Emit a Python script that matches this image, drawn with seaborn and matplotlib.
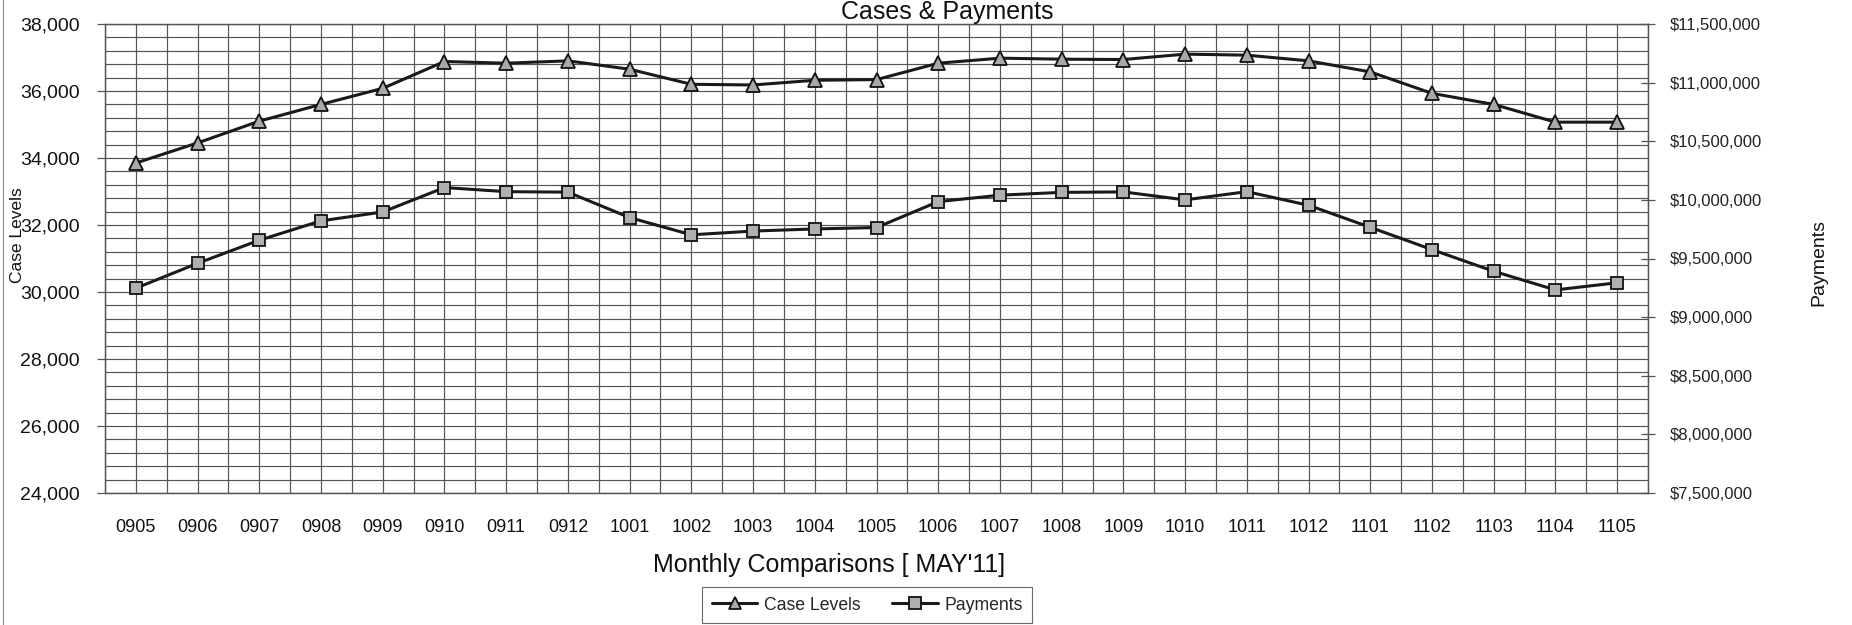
import numpy as np
import matplotlib
matplotlib.use("Agg")
import matplotlib.pyplot as plt
from matplotlib.ticker import MultipleLocator, FuncFormatter, FixedLocator
from matplotlib.lines import Line2D
import seaborn as sns

# monthly periods (YYMM) and values
months = ['0905', '0906', '0907', '0908', '0909', '0910', '0911', '0912',
          '1001', '1002', '1003', '1004', '1005', '1006', '1007', '1008',
          '1009', '1010', '1011', '1012', '1101', '1102', '1103', '1104', '1105']
case_levels = [33850, 34450, 35100, 35600, 36080, 36880, 36830, 36900,
               36650, 36200, 36180, 36320, 36340, 36830, 36980, 36950,
               36940, 37100, 37070, 36900, 36570, 35930, 35600, 35070, 35070]
payments = [9247000, 9459000, 9656000, 9821000, 9897000, 10105000, 10070000, 10066000,
            9849000, 9702000, 9734000, 9752000, 9764000, 9985000, 10040000, 10064000,
            10068000, 10000000, 10070000, 9954000, 9766000, 9576000, 9391000, 9232000, 9293000]

sns.set_theme(style='white')
plt.rcParams['font.family'] = ['Liberation Sans', 'DejaVu Sans']

W, H = 1852, 625
fig = plt.figure(figsize=(W / 100, H / 100), dpi=100)
left, right, top, bottom = 105, 1648, 24, 493
ax = fig.add_axes([left / W, 1 - bottom / H, (right - left) / W, (bottom - top) / H])
ax2 = ax.twinx()

grid_col = '#555555'
x = np.arange(len(months))

sns.lineplot(x=x, y=case_levels, ax=ax, color='#1a1a1a', lw=2.2, marker='^',
             markersize=10, markerfacecolor='#a8a8a8', markeredgecolor='#111111',
             markeredgewidth=1.3, label='Case Levels', legend=False, zorder=5)
sns.lineplot(x=x, y=payments, ax=ax2, color='#1a1a1a', lw=2.2, marker='s',
             markersize=9, markerfacecolor='#b0b0b0', markeredgecolor='#111111',
             markeredgewidth=1.3, label='Payments', legend=False, zorder=5)

ax.set_xlim(-0.5, len(months) - 0.5)
ax.set_ylim(24000, 38000)
ax2.set_ylim(7500000, 11500000)

# x axis: labels on categories, small ticks on boundaries
ax.xaxis.set_major_locator(FixedLocator(x))
ax.set_xticklabels(months)
ax.xaxis.set_minor_locator(FixedLocator(np.arange(-0.5, len(months), 1.0)))
ax.tick_params(axis='x', which='major', length=0, pad=19, labelsize=13, labelcolor='#111111')
ax.tick_params(axis='x', which='minor', length=5, width=0.9, color=grid_col, direction='out')

ax.yaxis.set_major_locator(MultipleLocator(2000))
ax.yaxis.set_minor_locator(MultipleLocator(400))
ax.yaxis.set_major_formatter(FuncFormatter(lambda v, p: f'{v:,.0f}'))
ax.tick_params(axis='y', which='major', left=True, length=6, width=0.9, color=grid_col,
               direction='out', pad=12, labelsize=14, labelcolor='#111111')
ax.tick_params(axis='y', which='minor', length=0)

ax2.yaxis.set_major_locator(MultipleLocator(500000))
ax2.yaxis.set_major_formatter(FuncFormatter(lambda v, p: f'${v:,.0f}'))
ax2.tick_params(axis='y', which='major', right=True, length=10, width=0.9, color=grid_col,
                direction='inout', pad=11, labelsize=12, labelcolor='#222222')
ax2.grid(False)

# dense grid: every half category and every 400 cases
ax.grid(True, which='both', axis='both', color=grid_col, lw=0.85)
ax.set_axisbelow(True)
for a in (ax, ax2):
    for s in a.spines.values():
        s.set_color(grid_col)
        s.set_linewidth(0.9)
ax.set_xlabel('')
ax.set_ylabel('')
ax2.set_ylabel('')

fig.text(947 / W, 1 - 19.5 / H, 'Cases & Payments', ha='center', va='baseline',
         fontsize=18, color='#111111')
fig.text(829 / W, 1 - 565 / H, "Monthly Comparisons [ MAY'11]", ha='center', va='center',
         fontsize=18, color='#111111')
fig.text(18 / W, 1 - 235 / H, 'Case Levels', rotation=90, ha='center', va='center',
         fontsize=12.5, color='#111111')
fig.text(1819 / W, 1 - 262 / H, 'Payments', rotation=90, ha='center', va='center',
         fontsize=14, color='#111111')

# outer chart border on the left edge
fig.add_artist(Line2D([3 / W, 3 / W], [0, 1], transform=fig.transFigure,
                      color='#888888', lw=0.8))

handles = ax.get_lines()[:1] + ax2.get_lines()[:1]
leg = fig.legend(handles, ['Case Levels', 'Payments'], loc='center',
                 bbox_to_anchor=(867 / W, 1 - 605 / H), ncol=2, fontsize=12.7,
                 frameon=True, fancybox=False, handlelength=2.6, columnspacing=1.8,
                 borderpad=0.55, borderaxespad=0, handletextpad=0.35, markerscale=0.9)
leg.get_frame().set_edgecolor('#444444')
leg.get_frame().set_linewidth(0.8)

fig.savefig('out.png', dpi=100, facecolor='white')
